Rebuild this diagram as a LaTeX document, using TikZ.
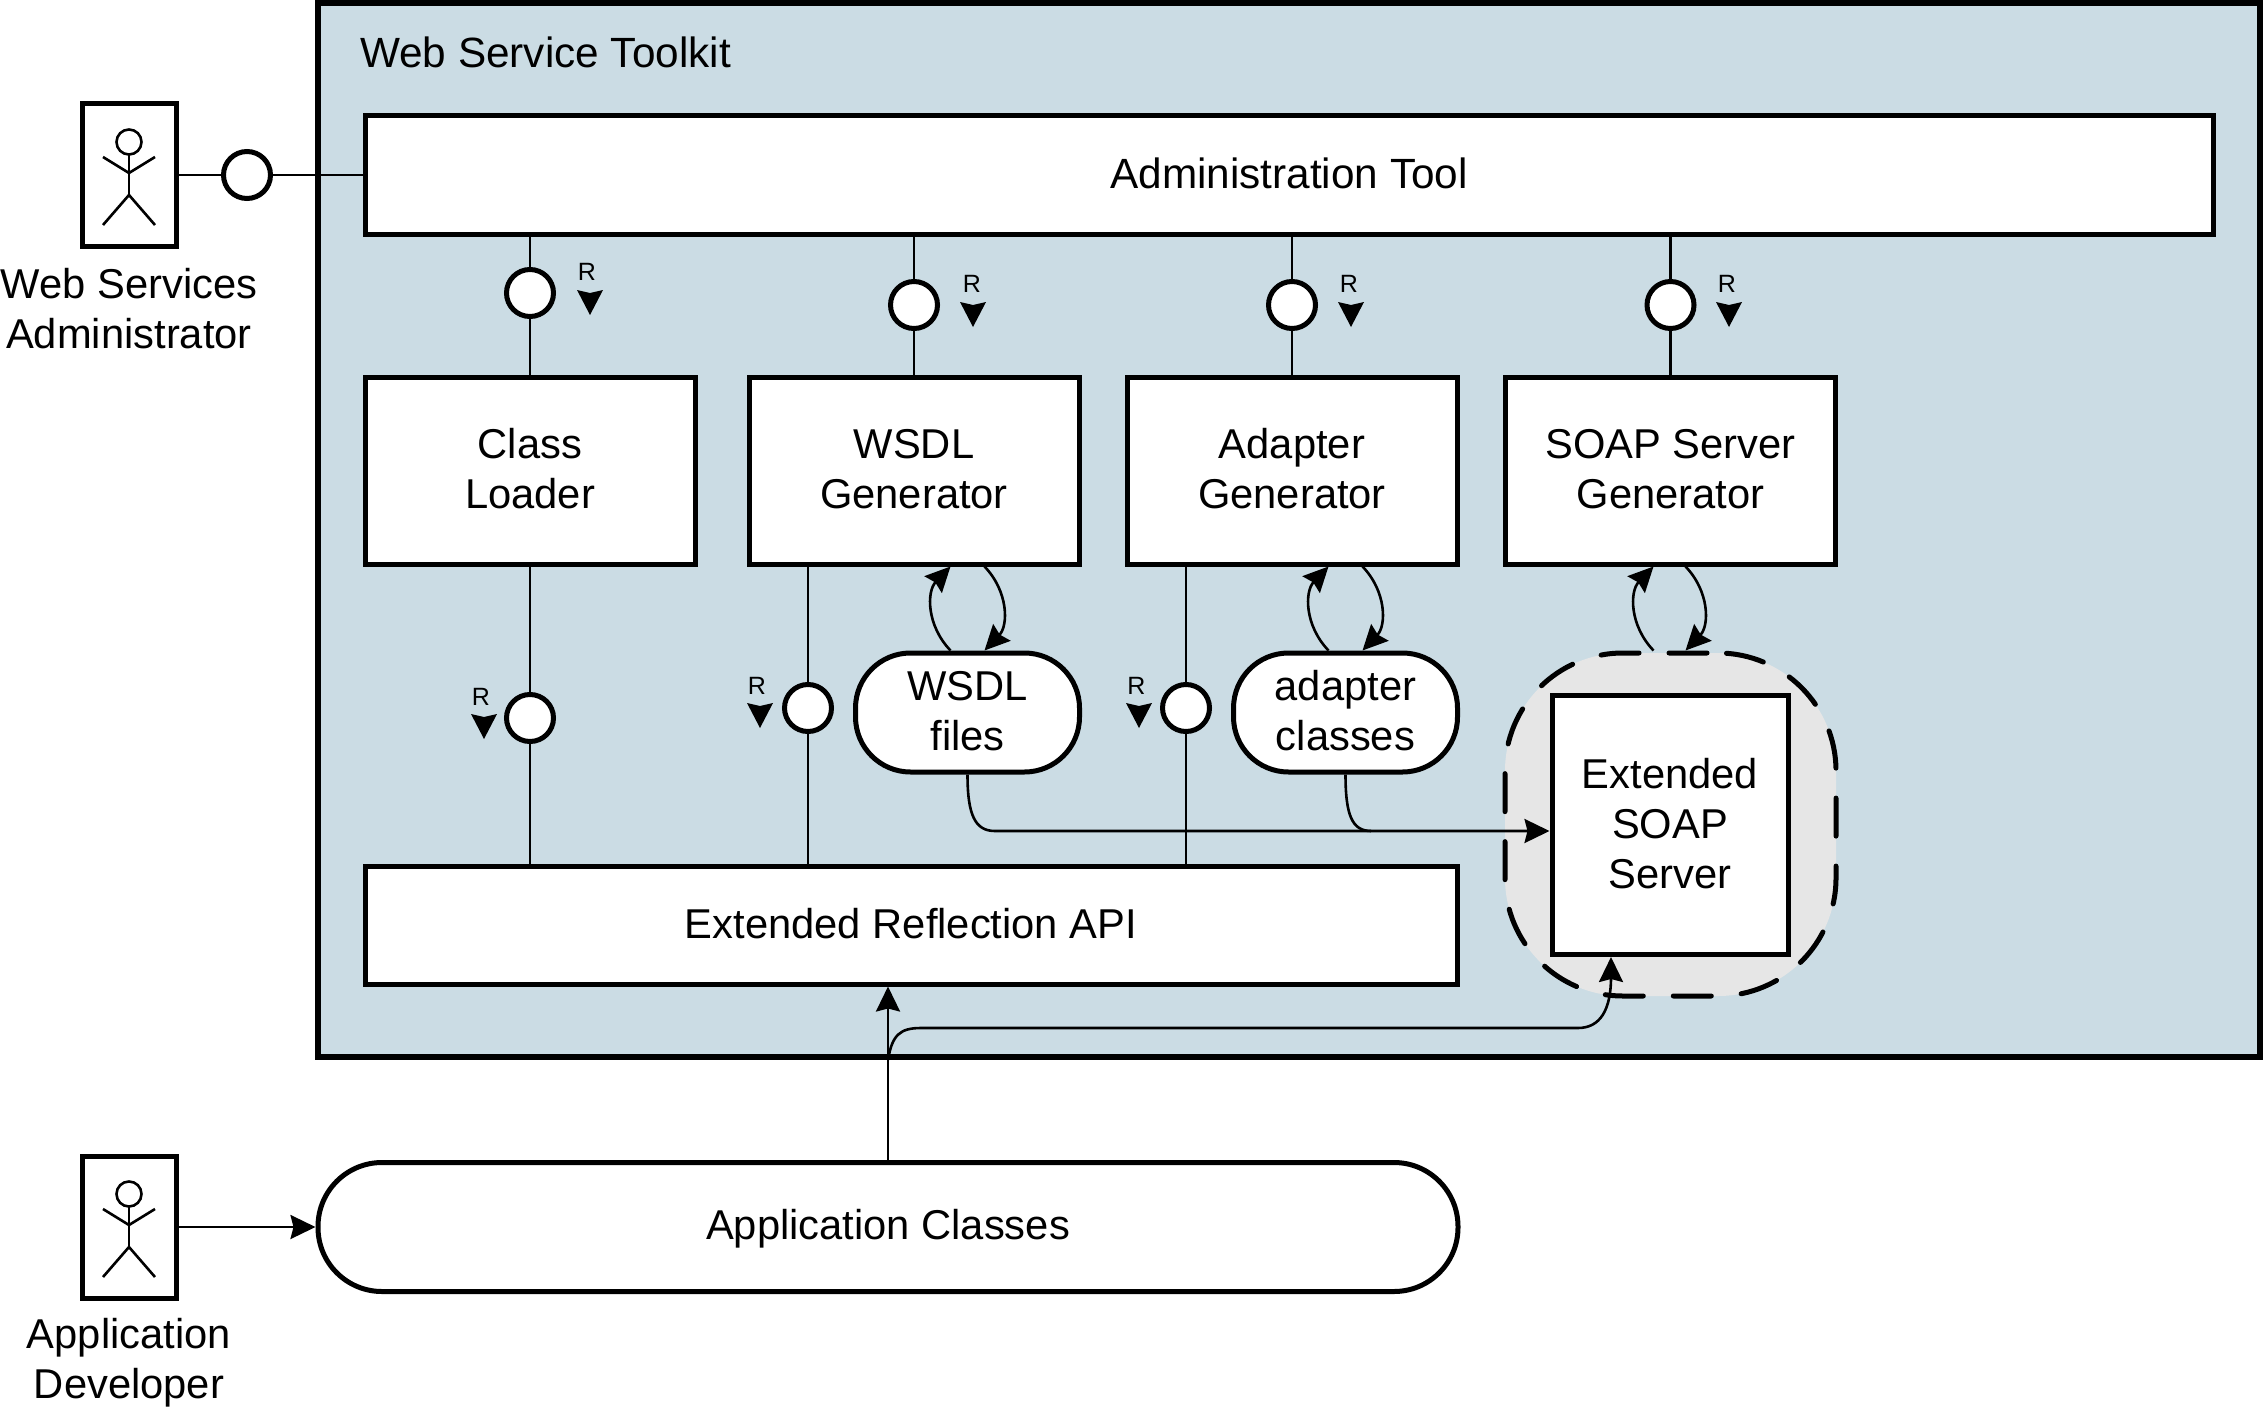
\documentclass[tikz,border=0pt]{standalone}
\usepackage{fontspec}
\usepackage{xcolor}
\setmainfont{Liberation Sans}
\usetikzlibrary{arrows.meta}

\definecolor{toolkitblue}{HTML}{CBDCE4}
\definecolor{cloudgrey}{HTML}{E6E6E6}

\tikzset{
	box/.style={draw, line width=5pt, fill=white, inner sep=0pt, align=center, text depth=4pt, font=\fontsize{41.7}{50}\selectfont},
	genbox/.style={box, minimum width=330pt, minimum height=187pt},
	actorbox/.style={draw, line width=5pt, fill=white, inner sep=0pt, minimum width=94pt, minimum height=142pt},
	pill/.style={box, rounded corners=55pt, minimum width=224pt, minimum height=119pt},
	iface/.style={draw, circle, line width=5pt, fill=white, inner sep=0pt, minimum size=47pt},
	caption/.style={inner sep=0pt, align=center, font=\fontsize{41.7}{50}\selectfont},
	widetext/.style={font=\fontsize{42.3}{50}\selectfont},
	rlabel/.style={inner sep=0pt, font=\fontsize{25}{25}\selectfont},
	conn/.style={line width=2.6pt},
	arrow/.style={conn, -{Stealth[length=25pt,width=24pt,inset=3pt]}},
	rhead/.pic={\fill (-13,0) -- (0,3) -- (13,0) -- (0,25) -- cycle;},
	stickman/.pic={
		\draw [conn] (0,-33) circle (12.5pt);
		\draw [conn] (0,-20) to (0,20);
		\draw [conn] (-26,-18) to (0,-2) to (26,-18);
		\draw [conn] (-26,50) to (0,20) to (26,50);
	}
}

\begin{document}
\begin{tikzpicture}[x=1pt,y=-1pt]
	\useasboundingbox (0,0) rectangle (2264,1410);

	\node [draw, line width=6pt, fill=toolkitblue, inner sep=0pt, minimum width=1942pt, minimum height=1054pt] (toolkit) at (1289,530) {};
	\node [caption, widetext, anchor=west] (toolkitname) at (360,52) {Web Service Toolkit};

	% upper row
	\node [box, widetext, minimum width=1848pt, minimum height=118pt] (admintool) at (1289,175) {Administration Tool};
	\node [genbox] (classloader) at (530,470.5) {Class\\Loader};
	\node [genbox] (wsdlgen) at (914,470.5) {WSDL\\Generator};
	\node [genbox] (adaptergen) at (1292,470.5) {Adapter\\Generator};
	\node [genbox] (soapgen) at (1670.5,470.5) {SOAP Server\\Generator};

	% generated things
	\node [pill] (wsdlfiles) at (967.5,712.5) {WSDL\\files};
	\node [pill] (adapterclasses) at (1345.5,712.5) {adapter\\classes};
	\node [draw, line width=5pt, fill=cloudgrey, rounded corners=118pt, dash pattern=on 38pt off 30pt, dash phase=57pt, line cap=round, inner sep=0pt, minimum width=331pt, minimum height=343pt] (soapcloud) at (1670.5,824.5) {};
	\node [box, minimum width=236pt, minimum height=259pt] (soapserver) at (1670,825) {Extended\\SOAP\\Server};

	\node [box, minimum width=1092pt, minimum height=118pt] (reflection) at (911,925) {Extended Reflection API};
	\node [box, text depth=0pt, text height=24pt, rounded corners=64pt, minimum width=1140pt, minimum height=129pt] (appclasses) at (888,1227) {Application Classes};

	% actors
	\node [actorbox] (webadmin) at (129,175) {};
	\pic at (129,175) {stickman};
	\node [caption] (webadminname) at (129,309) {Web Services\\Administrator};
	\node [actorbox] (appdev) at (129,1227) {};
	\pic at (129,1227) {stickman};
	\node [caption] (appdevname) at (129,1362.5) {Application\\Developer};

	% interfaces
	\node [iface] (ifadmin) at (247,175) {};
	\node [iface] (ifclass) at (530,293) {};
	\node [iface] (ifwsdl) at (914,305) {};
	\node [iface] (ifadapter) at (1292,305) {};
	\node [iface] (ifsoap) at (1670.5,305) {};
	\node [iface] (ifreflectA) at (530,718) {};
	\node [iface] (ifreflectB) at (808,708) {};
	\node [iface] (ifreflectC) at (1186,708) {};

	\draw [conn] (webadmin.east) to (ifadmin.west);
	\draw [conn] (ifadmin.east) to (admintool.west);

	\draw [conn] (admintool.south -| ifclass) to (ifclass.north);
	\draw [conn] (ifclass.south) to (classloader.north);
	\draw [conn] (admintool.south -| ifwsdl) to (ifwsdl.north);
	\draw [conn] (ifwsdl.south) to (wsdlgen.north);
	\draw [conn] (admintool.south -| ifadapter) to (ifadapter.north);
	\draw [conn] (ifadapter.south) to (adaptergen.north);
	\draw [conn] (admintool.south -| ifsoap) to (ifsoap.north);
	\draw [conn] (ifsoap.south) to (soapgen.north);

	\draw [conn] (classloader.south) to (ifreflectA.north);
	\draw [conn] (ifreflectA.south) to (ifreflectA |- reflection.north);
	\draw [conn] (ifreflectB |- wsdlgen.south) to (ifreflectB.north);
	\draw [conn] (ifreflectB.south) to (ifreflectB |- reflection.north);
	\draw [conn] (ifreflectC |- adaptergen.south) to (ifreflectC.north);
	\draw [conn] (ifreflectC.south) to (ifreflectC |- reflection.north);

	% R marks
	\node [rlabel] (ra) at (587,272) {R};
	\pic at (590,290) {rhead};
	\node [rlabel] (rb) at (972,284) {R};
	\pic at (973,302) {rhead};
	\node [rlabel] (rc) at (1349,284) {R};
	\pic at (1351,302) {rhead};
	\node [rlabel] (rd) at (1727,284) {R};
	\pic at (1729,302) {rhead};
	\node [rlabel] (re) at (481,697) {R};
	\pic at (484,714) {rhead};
	\node [rlabel] (rf) at (757,686) {R};
	\pic at (760,703) {rhead};
	\node [rlabel] (rg) at (1136.5,686) {R};
	\pic at (1139,703) {rhead};

	% reading and writing
	\draw [arrow] ([xshift=-17pt]wsdlfiles.north) .. controls +(-24,-25) and +(-24,25) .. ([xshift=-17pt]wsdlfiles.north |- wsdlgen.south);
	\draw [arrow] ([xshift=17pt]wsdlfiles.north |- wsdlgen.south) .. controls +(24,25) and +(24,-25) .. ([xshift=17pt]wsdlfiles.north);
	\draw [arrow] ([xshift=-17pt]adapterclasses.north) .. controls +(-24,-25) and +(-24,25) .. ([xshift=-17pt]adapterclasses.north |- adaptergen.south);
	\draw [arrow] ([xshift=17pt]adapterclasses.north |- adaptergen.south) .. controls +(24,25) and +(24,-25) .. ([xshift=17pt]adapterclasses.north);
	\draw [arrow] ([xshift=-17pt]soapcloud.north) .. controls +(-24,-25) and +(-24,25) .. ([xshift=-17pt]soapcloud.north |- soapgen.south);
	\draw [arrow] ([xshift=15pt]soapcloud.north |- soapgen.south) .. controls +(24,25) and +(24,-25) .. ([xshift=15pt]soapcloud.north);

	\coordinate (wsdlturn) at (995,831);
	\coordinate (adapterturn) at (1371,831);
	\coordinate (serverin) at (soapserver.west |- wsdlturn);
	\draw [arrow] (wsdlfiles.south) .. controls (967.5,815) and (975,831) .. (wsdlturn) to (serverin);
	\draw [conn] (adapterclasses.south) .. controls (1345.5,815) and (1352,831) .. (adapterturn);

	% application classes going up
	\draw [arrow] (appclasses.north) to (appclasses.north |- reflection.south);
	\draw [arrow] (appdev.east) to (appclasses.west);
	\coordinate (branch) at (appclasses.north |- toolkit.south);
	\coordinate (branchleft) at (921,1028);
	\coordinate (branchright) at (1578,1028);
	\coordinate (branchup) at (1611,977);
	\draw [arrow] (branch) .. controls (892,1035) and (900,1028) .. (branchleft) to (branchright) .. controls (1600,1028) and (1611,1010) .. (branchup) to (branchup |- soapserver.south);
\end{tikzpicture}
\end{document}
